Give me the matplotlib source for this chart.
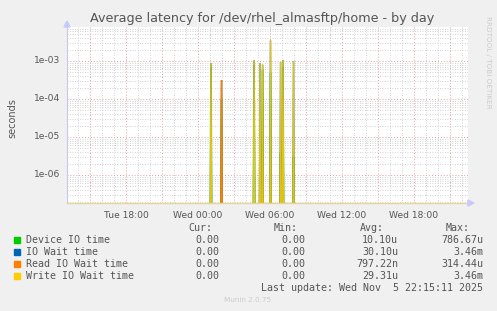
import matplotlib
matplotlib.use("Agg")
import matplotlib.pyplot as plt
from matplotlib.ticker import FixedLocator, NullFormatter, LogLocator
import numpy as np

# ---- data (hours since Tue 00:00, values in seconds) ----
step_h = 6.5 / 60.0
write_t = [25.08, 28.67, 29.17, 29.38, 30.04, 30.88, 31.08, 31.96]
write_v = [8.9e-4, 1.06e-3, 8.9e-4, 8.0e-4, 3.46e-3, 9.4e-4, 1.06e-3, 1.0e-3]
read_t = [25.96]
read_v = [3.14e-4]
device_t = [25.08, 25.96, 28.67, 29.17, 29.38, 30.04, 30.88, 31.08, 31.96]
device_v = [7.0e-4, 1.0e-4, 7.87e-4, 2.0e-5, 6.0e-4, 5.0e-4, 4.0e-6, 7.0e-4, 3.0e-6]
iowait_t = write_t + read_t
iowait_v = write_v + read_v

xticks_h = [18, 24, 30, 36, 42]
xtick_labels = ["Tue 18:00", "Wed 00:00", "Wed 06:00", "Wed 12:00", "Wed 18:00"]
yticks = [1e-6, 1e-5, 1e-4, 1e-3]
ytick_labels = ["1e-06", "1e-05", "1e-04", "1e-03"]

legend_names = ["Device IO time", "IO Wait time", "Read IO Wait time", "Write IO Wait time"]
legend_colors = ["#00CC00", "#0066B3", "#FF8000", "#FFCC00"]
cur_vals = ["0.00", "0.00", "0.00", "0.00"]
min_vals = ["0.00", "0.00", "0.00", "0.00"]
avg_vals = ["10.10u", "30.10u", "797.22n", "29.31u"]
max_vals = ["786.67u", "3.46m", "314.44u", "3.46m"]

x_min, x_max = 13.08, 46.5
y_min, y_max = 1.83e-7, 7.85e-3
floor = 1e-12

W, H = 497, 311
fig = plt.figure(figsize=(W / 100, H / 100), dpi=100, facecolor="#F0F0F0")
ax = fig.add_axes([67 / W, (H - 203) / H, 401 / W, 176 / H], facecolor="white")
ax.set_yscale("log")
ax.set_xlim(x_min, x_max)
ax.set_ylim(y_min, y_max)


def spikes(ts, vs):
    xs, ys = [], []
    for t, v in sorted(zip(ts, vs)):
        xs += [t - step_h, t, t + step_h]
        ys += [floor, v, floor]
    return np.array(xs), np.array(ys)


# grid
ax.xaxis.set_major_locator(FixedLocator(np.arange(15, 47, 3)))
ax.xaxis.set_minor_locator(FixedLocator(np.arange(14, 47, 1)))
ax.yaxis.set_major_locator(FixedLocator(yticks + [1e-7, 1e-2]))
ax.yaxis.set_minor_locator(LogLocator(base=10, subs=np.arange(2, 10), numticks=20))
ax.grid(which="minor", color="#C4C4C4", linestyle=(0, (1, 2)), linewidth=0.6)
ax.grid(which="major", color="#E8A0A0", linestyle=(0, (1, 2)), linewidth=0.7)
ax.set_axisbelow(True)
ax.tick_params(which="both", length=0, labelbottom=False, labelleft=False)
ax.xaxis.set_major_formatter(NullFormatter())
ax.yaxis.set_major_formatter(NullFormatter())

for (ts, vs), c, a, lw in [((device_t, device_v), legend_colors[0], 0.8, 1.3),
                           ((iowait_t, iowait_v), legend_colors[1], 1.0, 1.0),
                           ((read_t, read_v), legend_colors[2], 1.0, 1.2),
                           ((write_t, write_v), legend_colors[3], 0.9, 1.0)]:
    xs, ys = spikes(ts, vs)
    ax.plot(xs, ys, color=c, lw=lw, alpha=a, solid_joinstyle="miter")

for s in ["top", "right"]:
    ax.spines[s].set_visible(False)
ax.spines["left"].set_color("#C8C8EE")
ax.spines["left"].set_linewidth(0.8)
ax.spines["bottom"].set_color("#E6D49A")
ax.spines["bottom"].set_linewidth(1.0)

# axis arrows
fig.patches.append(matplotlib.patches.Polygon(
    [[64 / W, (H - 27) / H], [70 / W, (H - 27) / H], [67 / W, (H - 21) / H]],
    closed=True, transform=fig.transFigure, color="#C8C8FF"))
fig.patches.append(matplotlib.patches.Polygon(
    [[468 / W, (H - 200) / H], [468 / W, (H - 206) / H], [474 / W, (H - 203) / H]],
    closed=True, transform=fig.transFigure, color="#C8C8FF"))

txtc = "#555555"
for h, lab in zip(xticks_h, xtick_labels):
    ax.text(h, -0.045, lab, transform=ax.get_xaxis_transform(), ha="center", va="top",
            fontsize=6.6, color=txtc)
for v, lab in zip(yticks, ytick_labels):
    ax.text(-0.017, v, lab, transform=ax.get_yaxis_transform(), ha="right", va="center",
            fontsize=6.6, color=txtc)

fig.text(262 / W, 1 - 18.5 / H, "Average latency for /dev/rhel_almasftp/home - by day",
         ha="center", va="center", fontsize=9.2, color="#555555")
fig.text(12 / W, 1 - 118 / H, "seconds", rotation=90, ha="center", va="center",
         fontsize=7, color=txtc)
fig.text(488 / W, 1 - 16 / H, "RRDTOOL / TOBI OETIKER", rotation=270, ha="center", va="top",
         fontsize=5.2, color="#CCCCCC")

mono = "DejaVu Sans Mono"
fs = 7.2
def yf(y):
    return 1 - y / H

for xr, lab in [(212, "Cur:"), (298, "Min:"), (384, "Avg:"), (470, "Max:")]:
    fig.text(xr / W, yf(228), lab, ha="right", va="center", family=mono, fontsize=fs, color=txtc)

for i in range(4):
    y = 240 + 12 * i
    fig.patches.append(matplotlib.patches.Rectangle(
        (14 / W, yf(y + 3)), 6 / W, 6 / H, transform=fig.transFigure, color=legend_colors[i]))
    fig.text(26 / W, yf(y), legend_names[i], ha="left", va="center", family=mono, fontsize=fs, color=txtc)
    fig.text(219 / W, yf(y), cur_vals[i], ha="right", va="center", family=mono, fontsize=fs, color=txtc)
    fig.text(305 / W, yf(y), min_vals[i], ha="right", va="center", family=mono, fontsize=fs, color=txtc)
    fig.text(398 / W, yf(y), avg_vals[i], ha="right", va="center", family=mono, fontsize=fs, color=txtc)
    fig.text(483 / W, yf(y), max_vals[i], ha="right", va="center", family=mono, fontsize=fs, color=txtc)

fig.text(483 / W, yf(288), "Last update: Wed Nov  5 22:15:11 2025", ha="right", va="center",
         family=mono, fontsize=fs, color=txtc)
fig.text(248 / W, yf(300), "Munin 2.0.75", ha="center", va="center", fontsize=5.2, color="#CCCCCC")

fig.savefig("out.png", dpi=100, facecolor=fig.get_facecolor())
